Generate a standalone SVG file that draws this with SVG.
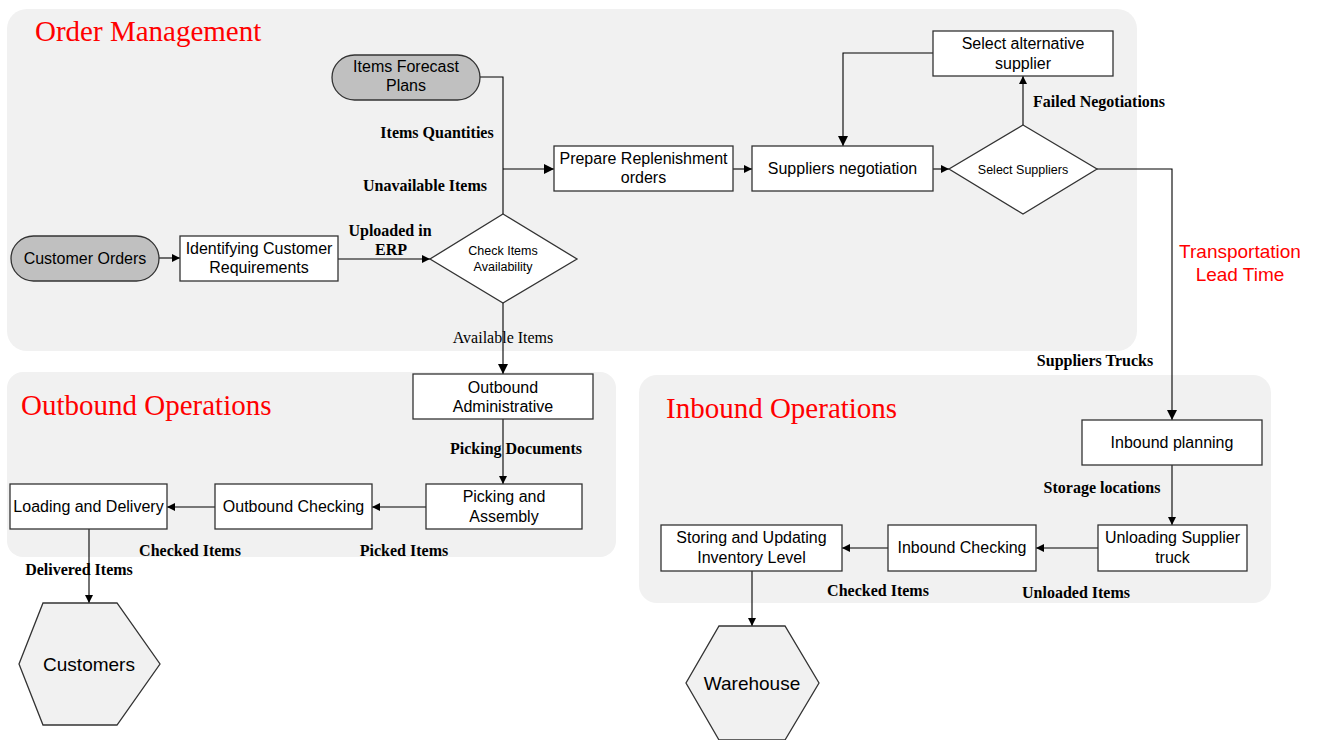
<svg xmlns="http://www.w3.org/2000/svg" width="1317" height="740" viewBox="0 0 1317 740">
  <defs>
    <marker id="arr" viewBox="0 0 10 10" refX="10" refY="5" markerWidth="8" markerHeight="8" markerUnits="userSpaceOnUse" orient="auto">
      <path d="M0,0 L10,5 L0,10 z" fill="#000"/>
    </marker>
    <marker id="arrL" viewBox="0 0 10 10" refX="10" refY="5" markerWidth="11" markerHeight="10" markerUnits="userSpaceOnUse" orient="auto">
      <path d="M0,0 L10,5 L0,10 z" fill="#000"/>
    </marker>
  </defs>
  <style>
    .panel { fill: #f1f1f1; stroke: none; }
    .title { font-family: "Liberation Serif", serif; font-size: 29px; fill: #ff0000; }
    .box { fill: #ffffff; stroke: #333333; stroke-width: 1.3; }
    .pill { fill: #c0c0c0; stroke: #333333; stroke-width: 1.3; }
    .hex { fill: #f1f1f1; stroke: #333333; stroke-width: 1.3; }
    .t { font-family: "Liberation Sans", Arial, sans-serif; font-size: 16px; fill: #000; text-anchor: middle; }
    .ts { font-family: "Liberation Sans", Arial, sans-serif; font-size: 12.5px; fill: #000; text-anchor: middle; }
    .tl { font-family: "Liberation Sans", Arial, sans-serif; font-size: 19px; fill: #000; text-anchor: middle; }
    .lbl { font-family: "Liberation Serif", serif; font-size: 16px; font-weight: bold; fill: #000; text-anchor: middle; }
    .lblr { font-family: "Liberation Serif", serif; font-size: 16px; fill: #000; text-anchor: middle; }
    .red { font-family: "Liberation Sans", Arial, sans-serif; font-size: 19px; fill: #ff0000; text-anchor: middle; }
    .c { fill: none; stroke: #000; stroke-width: 1.1; }
  </style>

  <rect width="1317" height="740" fill="#ffffff"/>

  <!-- swimlane panels -->
  <g id="panels">
    <rect class="panel" x="7" y="9" width="1130" height="342" rx="20"/>
    <rect class="panel" x="7" y="372" width="609" height="185" rx="16"/>
    <rect class="panel" x="639" y="375" width="632" height="228" rx="18"/>
    <text class="title" x="35" y="41">Order Management</text>
    <text class="title" x="21" y="415">Outbound Operations</text>
    <text class="title" x="666" y="418">Inbound Operations</text>
  </g>

  <!-- connectors -->
  <g id="connectors">
    <line class="c" x1="159" y1="258" x2="180" y2="258" marker-end="url(#arr)"/>
    <line class="c" x1="338" y1="259" x2="430" y2="259" marker-end="url(#arr)"/>
    <polyline class="c" points="480,77 503,77 503,214"/>
    <line class="c" x1="503" y1="169" x2="554" y2="169" marker-end="url(#arrL)"/>
    <line class="c" x1="503" y1="303" x2="503" y2="374" marker-end="url(#arrL)"/>
    <line class="c" x1="733" y1="169" x2="752" y2="169" marker-end="url(#arr)"/>
    <line class="c" x1="933" y1="169" x2="949" y2="169" marker-end="url(#arr)"/>
    <line class="c" x1="1023" y1="125" x2="1023" y2="76" marker-end="url(#arr)"/>
    <polyline class="c" points="933,53 843,53 843,146" marker-end="url(#arrL)"/>
    <polyline class="c" points="1097,169 1172,169 1172,420" marker-end="url(#arrL)"/>
    <line class="c" x1="503" y1="419" x2="503" y2="484" marker-end="url(#arr)"/>
    <line class="c" x1="426" y1="507" x2="372" y2="507" marker-end="url(#arr)"/>
    <line class="c" x1="215" y1="507" x2="167" y2="507" marker-end="url(#arr)"/>
    <line class="c" x1="89" y1="529" x2="89" y2="603" marker-end="url(#arr)"/>
    <line class="c" x1="1172" y1="465" x2="1172" y2="525" marker-end="url(#arr)"/>
    <line class="c" x1="1098" y1="548" x2="1036" y2="548" marker-end="url(#arr)"/>
    <line class="c" x1="888" y1="548" x2="842" y2="548" marker-end="url(#arr)"/>
    <line class="c" x1="752" y1="571" x2="752" y2="626" marker-end="url(#arr)"/>

    <!-- connector labels -->
    <text class="lbl" x="437" y="138">Items Quantities</text>
    <text class="lbl" x="425" y="191">Unavailable Items</text>
    <text class="lbl" x="390" y="236">Uploaded in</text>
    <text class="lbl" x="391" y="255">ERP</text>
    <text class="lblr" x="503" y="343">Available Items</text>
    <text class="lbl" x="1099" y="107">Failed Negotiations</text>
    <text class="lbl" x="1095" y="366">Suppliers Trucks</text>
    <text class="red" x="1240" y="258">Transportation</text>
    <text class="red" x="1240" y="281">Lead Time</text>
    <text class="lbl" x="516" y="454">Picking Documents</text>
    <text class="lbl" x="404" y="556">Picked Items</text>
    <text class="lbl" x="190" y="556">Checked Items</text>
    <text class="lbl" x="79" y="575">Delivered Items</text>
    <text class="lbl" x="1102" y="493">Storage locations</text>
    <text class="lbl" x="1076" y="598">Unloaded Items</text>
    <text class="lbl" x="878" y="596">Checked Items</text>
  </g>

  <!-- order management nodes -->
  <g id="items-forecast-plans">
    <rect class="pill" x="332" y="55" width="148" height="45" rx="22.5"/>
    <text class="t" x="406" y="72">Items Forecast</text>
    <text class="t" x="406" y="91">Plans</text>
  </g>
  <g id="customer-orders">
    <rect class="pill" x="11" y="236" width="148" height="45" rx="22.5"/>
    <text class="t" x="85" y="263.5">Customer Orders</text>
  </g>
  <g id="identifying-requirements">
    <rect class="box" x="180" y="236" width="158" height="45"/>
    <text class="t" x="259" y="254">Identifying Customer</text>
    <text class="t" x="259" y="273">Requirements</text>
  </g>
  <g id="check-availability">
    <polygon class="box" points="503,214 577,259 503,303 430,259"/>
    <text class="ts" x="503" y="254.5">Check Items</text>
    <text class="ts" x="503" y="270.5">Availability</text>
  </g>
  <g id="prepare-replenishment">
    <rect class="box" x="554" y="146" width="179" height="45"/>
    <text class="t" x="643.5" y="163.5">Prepare Replenishment</text>
    <text class="t" x="643.5" y="182.5">orders</text>
  </g>
  <g id="suppliers-negotiation">
    <rect class="box" x="752" y="146" width="181" height="45"/>
    <text class="t" x="842.5" y="173.5">Suppliers negotiation</text>
  </g>
  <g id="select-suppliers">
    <polygon class="box" points="1023,125 1097,169 1023,214 949,169"/>
    <text class="ts" x="1023" y="173.5">Select Suppliers</text>
  </g>
  <g id="select-alternative">
    <rect class="box" x="933" y="31" width="180" height="45"/>
    <text class="t" x="1023" y="48.5">Select alternative</text>
    <text class="t" x="1023" y="68.5">supplier</text>
  </g>

  <!-- outbound nodes -->
  <g id="outbound-administrative">
    <rect class="box" x="413" y="374" width="180" height="45"/>
    <text class="t" x="503" y="392.5">Outbound</text>
    <text class="t" x="503" y="411.5">Administrative</text>
  </g>
  <g id="picking-assembly">
    <rect class="box" x="426" y="484" width="156" height="45"/>
    <text class="t" x="504" y="501.5">Picking and</text>
    <text class="t" x="504" y="521.5">Assembly</text>
  </g>
  <g id="outbound-checking">
    <rect class="box" x="215" y="484" width="157" height="45"/>
    <text class="t" x="293.5" y="511.5">Outbound Checking</text>
  </g>
  <g id="loading-delivery">
    <rect class="box" x="10" y="484" width="157" height="45"/>
    <text class="t" x="88.5" y="511.5">Loading and Delivery</text>
  </g>
  <g id="customers">
    <polygon class="hex" points="43,603 117,603 160,664 117,725 43,725 19,664"/>
    <text class="tl" x="89" y="671">Customers</text>
  </g>

  <!-- inbound nodes -->
  <g id="inbound-planning">
    <rect class="box" x="1082" y="420" width="180" height="45"/>
    <text class="t" x="1172" y="447.5">Inbound planning</text>
  </g>
  <g id="unloading-truck">
    <rect class="box" x="1098" y="525" width="149" height="46"/>
    <text class="t" x="1172.5" y="542.5">Unloading Supplier</text>
    <text class="t" x="1172.5" y="562.5">truck</text>
  </g>
  <g id="inbound-checking">
    <rect class="box" x="888" y="525" width="148" height="46"/>
    <text class="t" x="962" y="552.5">Inbound Checking</text>
  </g>
  <g id="storing-updating">
    <rect class="box" x="661" y="525" width="181" height="46"/>
    <text class="t" x="751.5" y="542.5">Storing and Updating</text>
    <text class="t" x="751.5" y="562.5">Inventory Level</text>
  </g>
  <g id="warehouse">
    <polygon class="hex" points="719,626 785,626 819,683 785,740 719,740 686,683"/>
    <text class="tl" x="752" y="690">Warehouse</text>
  </g>
</svg>
